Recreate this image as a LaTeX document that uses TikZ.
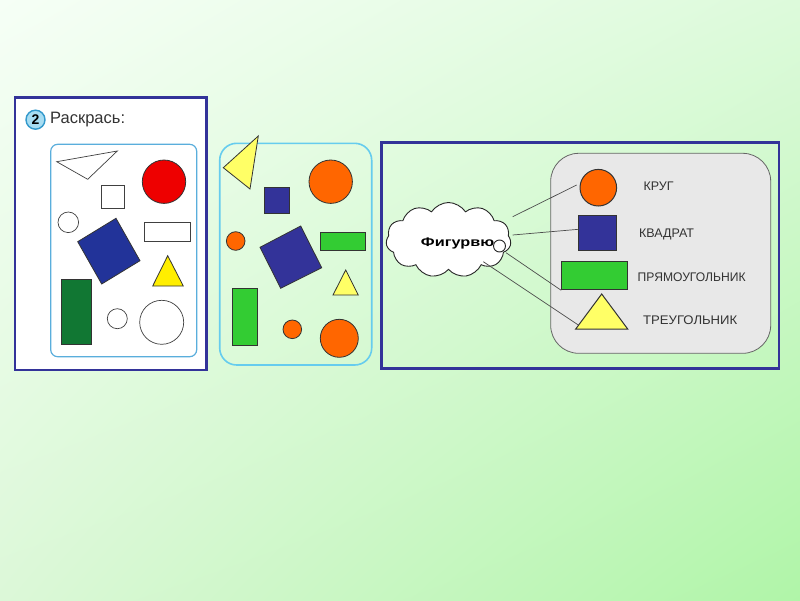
\documentclass[tikz,border=0pt]{standalone}
\usepackage{fontspec}
\setmainfont{Liberation Sans}
\usetikzlibrary{shapes.symbols,shapes.geometric,shadings,calc}
\definecolor{bgA}{HTML}{F6FFF6}
\definecolor{bgB}{HTML}{DDFADB}
\definecolor{bgC}{HTML}{DCF8D8}
\definecolor{bgD}{HTML}{B0F5A8}
\definecolor{frame}{HTML}{333399}
\definecolor{lblue}{HTML}{5AAEDC}
\definecolor{cyanb}{HTML}{66CCEE}
\definecolor{redc}{HTML}{EE0000}
\definecolor{dblue}{HTML}{223399}
\definecolor{mblue}{HTML}{333399}
\definecolor{dgreen}{HTML}{117733}
\definecolor{bgreen}{HTML}{33CC33}
\definecolor{yel}{HTML}{FFEE00}
\definecolor{lyel}{HTML}{FFFF66}
\definecolor{orng}{HTML}{FF6600}
\definecolor{txt}{HTML}{333333}
\definecolor{twofill}{HTML}{A8DDF2}
\definecolor{twodraw}{HTML}{3399CC}
\tikzset{
  shp/.style={draw=black!80, line width=0.8pt},
  wshp/.style={draw=black!75, line width=0.7pt, fill=white},
  lab/.style={text=txt, font=\fontsize{12.5}{14}\selectfont, inner sep=0pt, anchor=west},
  conn/.style={draw=black!70, line width=0.7pt},
  panel/.style={draw=frame, line width=2.4pt}
}
\begin{document}
\begin{tikzpicture}[x=1pt,y=-1pt]
\useasboundingbox (0,0) rectangle (800,600);
\shade[upper left=bgA, upper right=bgB, lower left=bgC, lower right=bgD] (0,0) rectangle (800,600);

% ---------- left panel ----------
\draw[panel, fill=white] (15,97.5) rectangle (206.5,370);
\node[circle, draw=twodraw, line width=1.4pt, fill=twofill, inner sep=0pt, minimum size=19pt, font=\bfseries\fontsize{14}{16}\selectfont] (two) at (35.5,119.7) {2};
\node[anchor=west, text=txt, font=\fontsize{16.5}{19}\selectfont, inner sep=0pt] (title) at (50,119.7) {Раскрась:};
\draw[draw=lblue, line width=1.2pt, rounded corners=7pt] (50.7,144.3) rectangle (196.7,356.7);
\draw[wshp] (56.7,161.7) -- (117.3,151) -- (87.7,179.3) -- cycle;
\draw[shp, fill=redc] (164,181.7) circle (21.7);
\draw[wshp] (101.7,185) rectangle (124.7,208);
\draw[wshp] (68.3,222.3) circle (10.3);
\draw[wshp] (144.3,222.3) rectangle (190.3,241.7);
\draw[shp, fill=dblue] (77.7,241.7) -- (116,218.3) -- (140,260.7) -- (101.7,284) -- cycle;
\draw[shp, fill=yel] (167.7,255.7) -- (152.7,286) -- (183.3,286) -- cycle;
\draw[shp, fill=dgreen] (61,279.3) rectangle (91,344);
\draw[wshp] (117.3,318.7) circle (10);
\draw[wshp] (161.7,322.3) circle (22);

% ---------- middle panel ----------
\draw[draw=cyanb, line width=1.6pt, rounded corners=17pt] (219.7,143.3) rectangle (371.7,365);
\draw[shp, fill=lyel] (258.3,136) -- (223.3,167.7) -- (250,189) -- cycle;
\draw[shp, fill=orng] (330.7,181.7) circle (21.7);
\draw[shp, fill=mblue] (264,187.7) rectangle (289.3,213.3);
\draw[shp, fill=orng] (235.7,241) circle (9.3);
\draw[shp, fill=mblue] (260,247.3) -- (300.7,226) -- (321.7,267.7) -- (280.7,288.3) -- cycle;
\draw[shp, fill=bgreen] (320.3,232) rectangle (365,250.7);
\draw[shp, fill=lyel] (345.7,270) -- (333,295) -- (358.3,295) -- cycle;
\draw[shp, fill=bgreen] (232.7,288.3) rectangle (257.7,345.7);
\draw[shp, fill=orng] (292.3,329.3) circle (9.3);
\draw[shp, fill=orng] (339.3,338.3) circle (19);

% ---------- right panel ----------
\draw[panel] (381.5,142.5) rectangle (779,368.5);
\draw[draw=black!60, line width=0.8pt, fill=black!9, rounded corners=28pt] (550.7,153.3) rectangle (770.7,353.3);

\node[cloud, cloud puffs=11, cloud puff arc=115, aspect=1.75, draw=black!85, line width=0.9pt, fill=white, minimum width=125pt, minimum height=75pt, inner sep=0pt] (cl) at (448.5,240) {};
\node[font=\bfseries\fontsize{12.5}{14}\selectfont, inner sep=0pt] (cltext) at (457.5,243.5) {\scalebox{1.3}[1]{Фигурвю}};
\node[circle, draw=black!85, line width=0.9pt, fill=white, minimum size=12pt, inner sep=0pt] (bub) at (499.5,246) {};

\node[circle, shp, line width=1pt, fill=orng, minimum size=36.6pt, inner sep=0pt] (circ) at (598.3,187.7) {};
\node[rectangle, shp, line width=1pt, fill=mblue, minimum width=37.7pt, minimum height=35.3pt, inner sep=0pt] (sq) at (597.8,233.3) {};
\node[rectangle, shp, line width=1pt, fill=bgreen, minimum width=66pt, minimum height=27.6pt, inner sep=0pt] (rect) at (594.7,275.5) {};
\draw[shp, line width=1pt, fill=lyel] (601.7,294) coordinate (tri) -- (575.7,329) coordinate (trl) -- (627.7,329) -- cycle;

\node[lab] (l1) at (643.3,186.7) {КРУГ};
\node[lab] (l2) at (639,234) {КВАДРАТ};
\node[lab] (l3) at (637.5,277) {\scalebox{0.97}[1]{ПРЯМОУГОЛЬНИК}};
\node[lab] (l4) at (643,320) {\scalebox{1.05}[1]{ТРЕУГОЛЬНИК}};

\coordinate (c1) at (512.7,216.7);
\coordinate (c2) at (512.7,235);
\coordinate (c3) at (506,252.7);
\coordinate (c4) at (483.3,261.7);
\coordinate (e4) at (578.3,325);
\draw[conn] (c1) -- ($(circ.center)+(-21.6,-2.7)$);
\draw[conn] (c2) -- ([yshift=4pt]sq.west);
\draw[conn] (c3) -- ([yshift=-0.5pt]rect.south west);
\draw[conn] (c4) -- (e4);
\end{tikzpicture}
\end{document}
